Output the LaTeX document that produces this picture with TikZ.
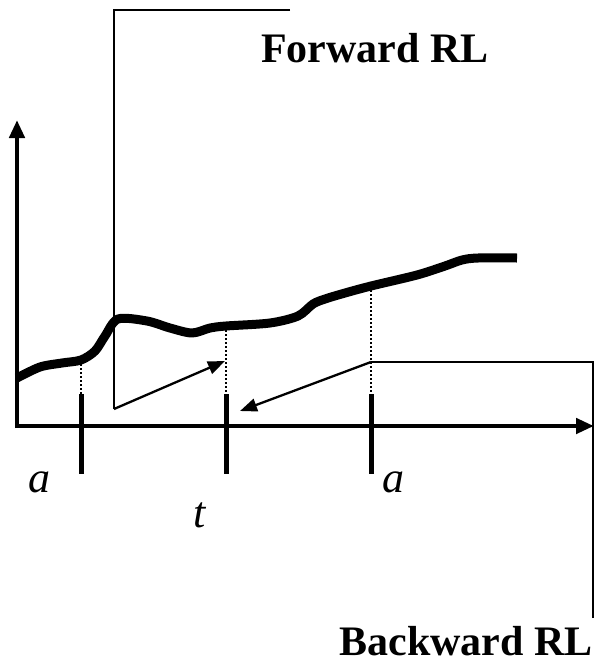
\documentclass[tikz,border=0pt]{standalone}
\usepackage{fontspec}
\setmainfont{Liberation Serif}
\usetikzlibrary{arrows.meta}
\begin{document}
\begin{tikzpicture}[x=1pt,y=-1pt,
  axis/.style={line width=4.5pt,-{Triangle[length=18pt,width=15pt]}},
  tick/.style={line width=5pt},
  guide/.style={line width=2pt,dotted},
  callout/.style={line width=2.3pt},
  callarrow/.style={line width=2.3pt,-{Triangle[length=17pt,width=13pt]}},
  lbl/.style={font=\fontsize{42}{48}\selectfont\bfseries,inner sep=0pt,anchor=base},
  var/.style={font=\fontsize{44}{50}\selectfont\itshape,inner sep=0pt,anchor=base}]
\useasboundingbox (0,0) rectangle (598,664);
% axes
\coordinate (Ytop) at (17,120);
\coordinate (Xend) at (594,426);
\draw[axis] (17,428) -- (Ytop);
\draw[axis] (15,426) -- (Xend);
% ticks
\coordinate (t1a) at (81,394); \coordinate (t1b) at (81,474);
\coordinate (t2a) at (226,394); \coordinate (t2b) at (226,474);
\coordinate (t3a) at (371,394); \coordinate (t3b) at (371,474);
\draw[tick] (t1a) -- (t1b);
\draw[tick] (t2a) -- (t2b);
\draw[tick] (t3a) -- (t3b);
% curve points
\coordinate (c1) at (81,360);
\coordinate (c2) at (226,326);
\coordinate (c3) at (371,286);
\draw[line width=9pt,line join=round] plot[smooth,tension=0.5] coordinates {
 (17,378) (40,367) (62,363) (c1) (95,351) (105,336) (118,319) (147,321) (170,328) (192,333) (210,328) (c2) (270,323) (298,316) (313,304) (325,299) (345,293) (c3) (417,275) (445,266) (462,260) (478,258) (517,258)};
% dotted guides
\draw[guide] (c1) -- (t1a);
\draw[guide] (c2) -- (t2a);
\draw[guide] (c3) -- (t3a);
% labels
\node[lbl] (fwd) at (375,62) {Forward RL};
\node[lbl] (bwd) at (466,655) {Backward RL};
\node[var] (a1) at (39,492) {a};
\node[var] (tt) at (200,527) {t};
\node[var] (a2) at (393,492) {a};
% forward callout
\coordinate (f0) at (290,10);
\coordinate (f1) at (114,10);
\coordinate (f2) at (114,409);
\coordinate (ftip) at (225,361);
\draw[callout] (f0) -- (f1) -- (f2);
\draw[callarrow] (f2) -- (ftip);
% backward callout
\coordinate (b0) at (593,618);
\coordinate (b1) at (593,362);
\coordinate (b2) at (371,362);
\coordinate (btip) at (240,411);
\draw[callout] (b0) -- (b1) -- (b2);
\draw[callarrow] (b2) -- (btip);
\end{tikzpicture}
\end{document}
